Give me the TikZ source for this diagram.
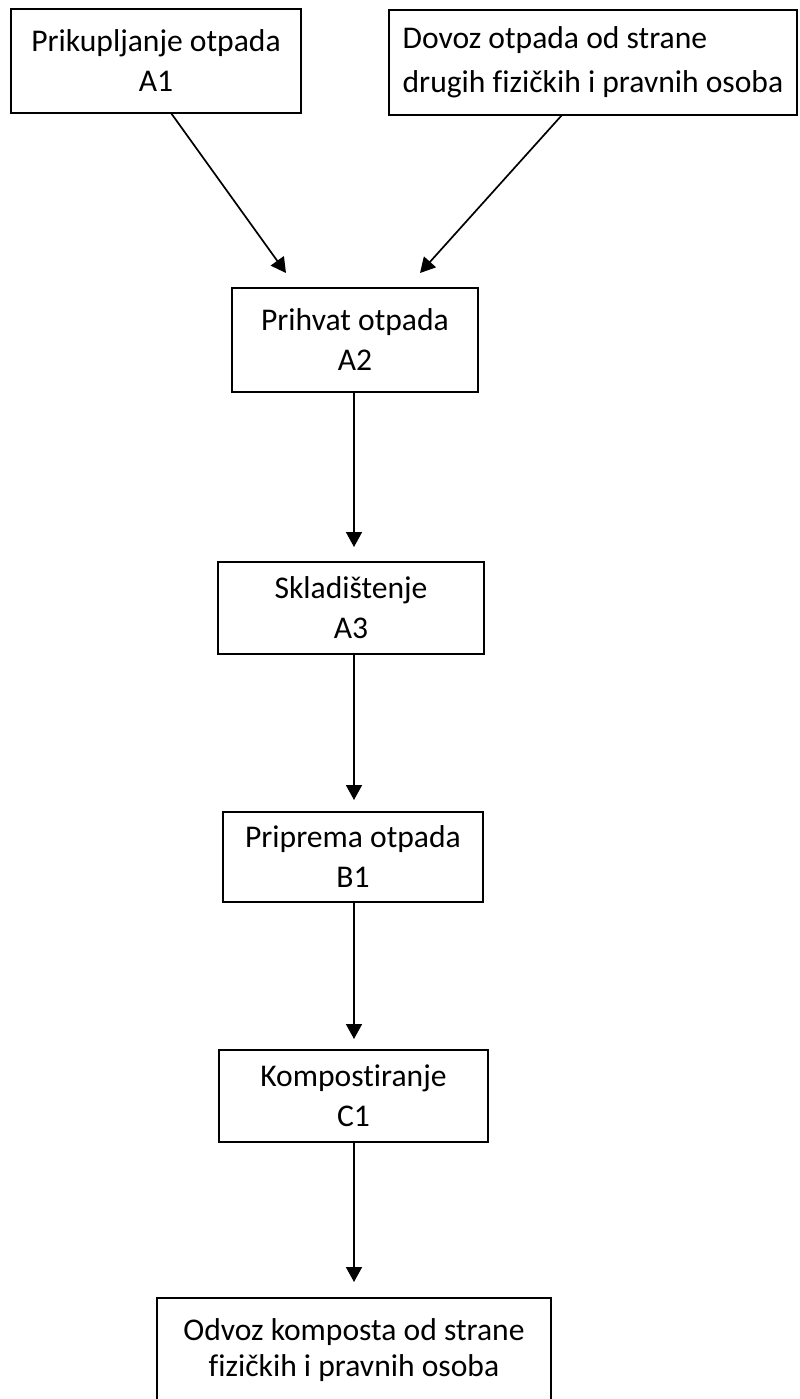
\documentclass[tikz,border=0pt]{standalone}
\usepackage{fontspec}
\setmainfont{Carlito}[Ligatures=NoCommon]
\usetikzlibrary{arrows.meta,positioning}
\tikzset{
  step-box/.style={draw, rectangle, line width=0.85pt, align=center, inner sep=0,
    outer sep=0, font=\fontsize{15.8}{20}\selectfont},
  flow-arrow/.style={-{Triangle[length=7.5pt,width=8pt]}, line width=0.85pt}
}

\begin{document}
\begin{tikzpicture}[x=0.5pt, y=-0.5pt]
    \useasboundingbox (0,0) rectangle (799,1399);
    % sources
    \node[step-box, minimum width=145pt, minimum height=52pt] (A1) at (156,61)
      {Prikupljanje otpada\\A1};
    \node[step-box, align=left, minimum width=204pt, minimum height=52.5pt,
      font=\fontsize{15.8}{22}\selectfont] (dovoz) at (593,62.5)
      {Dovoz otpada od strane\\drugih fizičkih i pravnih osoba};
    % main chain
    \node[step-box, minimum width=123pt, minimum height=52pt] (A2) at (355,340)
      {Prihvat otpada\\A2};
    \node[step-box, minimum width=133pt, minimum height=46pt] (A3) at (351,608)
      {Skladištenje\\A3};
    \node[step-box, minimum width=130pt, minimum height=45pt] (B1) at (353,857)
      {Priprema otpada\\B1};
    \node[step-box, minimum width=134.5pt, minimum height=46pt] (C1) at (353.5,1096)
      {Kompostiranje\\C1};
    \node[step-box, minimum width=197pt, minimum height=52pt,
      font=\fontsize{15.8}{18}\selectfont] (odvoz) at (354,1350)
      {Odvoz komposta od strane\\fizičkih i pravnih osoba};
    \coordinate (axis) at (354,0);

    \draw[flow-arrow] ([xshift=7.5pt]A1.south) -- ([xshift=-34.5pt,yshift=7.5pt]A2.north);
    \draw[flow-arrow] ([xshift=-15.5pt]dovoz.south) -- ([xshift=32.5pt,yshift=7.5pt]A2.north);
    \draw[flow-arrow, shorten >=7.5pt] (A2.south -| axis) -- (A3.north -| axis);
    \draw[flow-arrow, shorten >=6pt] (A3.south -| axis) -- (B1.north -| axis);
    \draw[flow-arrow, shorten >=5.5pt] (B1.south -| axis) -- (C1.north -| axis);
    \draw[flow-arrow, shorten >=8pt] (C1.south -| axis) -- (odvoz.north -| axis);
\end{tikzpicture}
\end{document}
